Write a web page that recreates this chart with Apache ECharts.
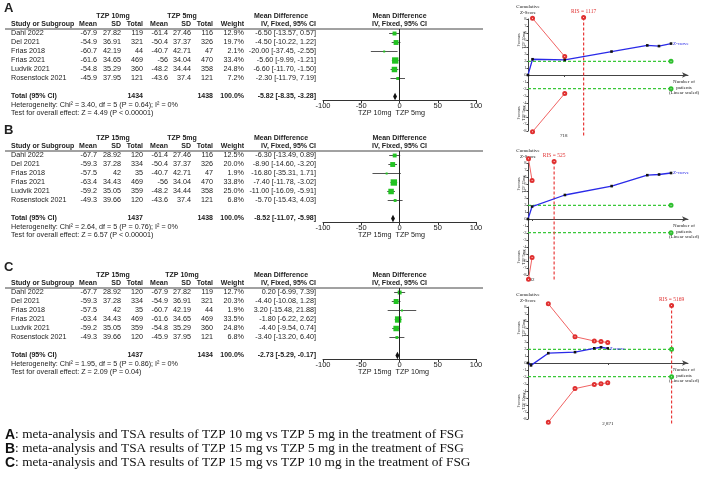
<!DOCTYPE html>
<html><head><meta charset="utf-8">
<script src="https://cdn.jsdelivr.net/npm/echarts@6/dist/echarts.min.js"></script>
<style>html,body{margin:0;padding:0;background:#fff}#c{width:708px;height:484px}</style>
</head><body><div id="c"></div>
<script>
// ---------------- DATA ----------------
const studies = ['Dahl 2022','Del 2021','Frias 2018','Frias 2021','Ludvik 2021','Rosenstock 2021'];
const forestTicks = [-100, -50, 0, 50, 100];

// Panel A: TZP 10mg vs TZP 5mg
const aGroups = ['TZP 10mg', 'TZP 5mg'];
const aExpMean = [-67.9, -54.9, -60.7, -61.6, -54.8, -45.9];
const aExpSD = [27.82, 36.91, 42.19, 34.65, 35.29, 37.95];
const aExpN = [119, 321, 44, 469, 360, 121];
const aCtrlMean = [-61.4, -50.4, -40.7, -56, -48.2, -43.6];
const aCtrlSD = [27.46, 37.37, 42.71, 34.04, 34.44, 37.4];
const aCtrlN = [116, 326, 47, 470, 358, 121];
const aWeight = [12.9, 19.7, 2.1, 33.4, 24.8, 7.2];
const aMD = [-6.50, -4.50, -20.00, -5.60, -6.60, -2.30];
const aLo = [-13.57, -10.22, -37.45, -9.99, -11.70, -11.79];
const aHi = [0.57, 1.22, -2.55, -1.21, -1.50, 7.19];
const aTotal = [1434, 1438, -5.82, -8.35, -3.28];
const aHet = 'Heterogeneity: Chi² = 3.40, df = 5 (P = 0.64); I² = 0%';
const aTest = 'Test for overall effect: Z = 4.49 (P < 0.00001)';
// TSA A
const aZx = [0, 91, 738, 1677, 2395, 2630, 2872];
const aZ = [0, 2.25, 2.15, 3.35, 4.23, 4.13, 4.49];
const aBoundX = [91, 738];
const aUpper = [8.1, 2.63];
const aLower = [-8.1, -2.63];
const aRIS = 1117;
const aXLabel = 718;
const aFav = ['Favours\nTZP 10mg', 'Favours\nTZP 5mg'];

// Panel B: TZP 15mg vs TZP 5mg
const bGroups = ['TZP 15mg', 'TZP 5mg'];
const bExpMean = [-67.7, -59.3, -57.5, -63.4, -59.2, -49.3];
const bExpSD = [28.92, 37.28, 42, 34.43, 35.05, 39.66];
const bExpN = [120, 334, 35, 469, 359, 120];
const bCtrlMean = [-61.4, -50.4, -40.7, -56, -48.2, -43.6];
const bCtrlSD = [27.46, 37.37, 42.71, 34.04, 34.44, 37.4];
const bCtrlN = [116, 326, 47, 470, 358, 121];
const bWeight = [12.5, 20.0, 1.9, 33.8, 25.0, 6.8];
const bMD = [-6.30, -8.90, -16.80, -7.40, -11.00, -5.70];
const bLo = [-13.49, -14.60, -35.31, -11.78, -16.09, -15.43];
const bHi = [0.89, -3.20, 1.71, -3.02, -5.91, 4.03];
const bTotal = [1437, 1438, -8.52, -11.07, -5.98];
const bHet = 'Heterogeneity: Chi² = 2.64, df = 5 (P = 0.76); I² = 0%';
const bTest = 'Test for overall effect: Z = 6.57 (P < 0.00001)';
// TSA B
const bZx = [0, 82, 742, 1681, 2398, 2634, 2875];
const bZ = [0, 1.78, 3.43, 4.70, 6.26, 6.36, 6.57];
const bBoundX = [10, 82];
const bUpper = [8.6, 5.5];
const bLower = [-8.6, -5.5];
const bRIS = 525;
const bXLabel = 82;
const bFav = ['Favours\nTZP 15mg', 'Favours\nTZP 5mg'];

// Panel C: TZP 15mg vs TZP 10mg
const cGroups = ['TZP 15mg', 'TZP 10mg'];
const cExpMean = [-67.7, -59.3, -57.5, -63.4, -59.2, -49.3];
const cExpSD = [28.92, 37.28, 42, 34.43, 35.05, 39.66];
const cExpN = [120, 334, 35, 469, 359, 120];
const cCtrlMean = [-67.9, -54.9, -60.7, -61.6, -54.8, -45.9];
const cCtrlSD = [27.82, 36.91, 42.19, 34.65, 35.29, 37.95];
const cCtrlN = [119, 321, 44, 469, 360, 121];
const cWeight = [12.7, 20.3, 1.9, 33.5, 24.8, 6.8];
const cMD = [0.20, -4.40, 3.20, -1.80, -4.40, -3.40];
const cLo = [-6.99, -10.08, -15.48, -6.22, -9.54, -13.20];
const cHi = [7.39, 1.28, 21.88, 2.62, 0.74, 6.40];
const cTotal = [1437, 1434, -2.73, -5.29, -0.17];
const cHet = 'Heterogeneity: Chi² = 1.95, df = 5 (P = 0.86); I² = 0%';
const cTest = 'Test for overall effect: Z = 2.09 (P = 0.04)';
// TSA C
const cZx = [0, 108, 731, 1692, 2387, 2628, 2871];
const cZ = [0, -0.34, 1.40, 1.55, 2.10, 2.25, 2.09];
const cBoundX = [731, 1692, 2387, 2628, 2871];
const cUpper = [8.45, 3.76, 3.14, 3.06, 2.92];
const cLower = [-8.45, -3.66, -3.06, -2.96, -2.82];
const cRIS = 5169;
const cXLabel = 2871;
const cFav = ['Favours\nTZP 15mg', 'Favours\nTZP 10mg'];

const captions = [
  ['A', ': meta-analysis and TSA results of TZP 10 mg vs TZP 5 mg in the treatment of FSG'],
  ['B', ': meta-analysis and TSA results of TZP 15 mg vs TZP 5 mg in the treatment of FSG'],
  ['C', ': meta-analysis and TSA results of TZP 15 mg vs TZP 10 mg in the treatment of FSG']
];

// ---------------- LAYOUT ----------------
const SANS = '"Liberation Sans", Arial, sans-serif';
const SERIF = '"Liberation Serif", "Times New Roman", serif';
const panels = [
  {label:'A', dy:0,   zero:75,  xMax:3213, g:aGroups, em:aExpMean, es:aExpSD, en:aExpN, cm:aCtrlMean, cs:aCtrlSD, cn:aCtrlN, w:aWeight, md:aMD, lo:aLo, hi:aHi, tot:aTotal, het:aHet, test:aTest,
   zx:aZx, z:aZ, bx:aBoundX, up:aUpper, lw:aLower, ris:aRIS, xl:aXLabel, fav:aFav},
  {label:'B', dy:122, zero:219, xMax:3216, g:bGroups, em:bExpMean, es:bExpSD, en:bExpN, cm:bCtrlMean, cs:bCtrlSD, cn:bCtrlN, w:bWeight, md:bMD, lo:bLo, hi:bHi, tot:bTotal, het:bHet, test:bTest,
   zx:bZx, z:bZ, bx:bBoundX, up:bUpper, lw:bLower, ris:bRIS, xl:bXLabel, fav:bFav},
  {label:'C', dy:259, zero:363, xMax:5760, g:cGroups, em:cExpMean, es:cExpSD, en:cExpN, cm:cCtrlMean, cs:cCtrlSD, cn:cCtrlN, w:cWeight, md:cMD, lo:cLo, hi:cHi, tot:cTotal, het:cHet, test:cTest,
   zx:cZx, z:cZ, bx:cBoundX, up:cUpper, lw:cLower, ris:cRIS, xl:cXLabel, fav:cFav}
];
const COL = {mean1:97, sd1:121, n1:143, mean2:168, sd2:191, n2:213, w:244, ci:316, g1:113, g2:182, md:281, study:11};
const ROW0 = 33.5, ROWH = 9;
const FL = 323, FW = 153;
const FS = 7.2, FB = 7;

function txt(x, y, text, o) {
  o = o || {};
  return {type:'text', x:x, y:y, silent:true, rotation:o.rot||0,
    style:{text:text, fill:o.fill||'#222', font:(o.bold?'bold ':'')+(o.size||(o.bold?FB:FS))+'px '+(o.family||SANS),
      align:o.align||'left', verticalAlign:'middle', lineHeight:o.lh}};
}
const fmt2 = v => v.toFixed(2);
const ciStr = (m,l,h) => fmt2(m)+' ['+fmt2(l)+', '+fmt2(h)+']';

const graphics = [];
const grids = [], xAxes = [], yAxes = [], series = [];

panels.forEach((p, k) => {
  const dy = p.dy;
  graphics.push(txt(4, 8+dy, p.label, {bold:true, size:13}));
  const h1 = 16+dy, h2 = 24.5+dy;
  graphics.push(txt(COL.g1, h1, p.g[0], {bold:true, align:'center'}));
  graphics.push(txt(COL.g2, h1, p.g[1], {bold:true, align:'center'}));
  graphics.push(txt(COL.md, h1, 'Mean Difference', {bold:true, align:'center'}));
  graphics.push(txt(FL+FW/2, h1, 'Mean Difference', {bold:true, align:'center'}));
  graphics.push(txt(COL.study, h2, 'Study or Subgroup', {bold:true}));
  [['Mean',COL.mean1],['SD',COL.sd1],['Total',COL.n1],['Mean',COL.mean2],['SD',COL.sd2],['Total',COL.n2],['Weight',COL.w],['IV, Fixed, 95% CI',COL.ci]]
    .forEach(([t,x]) => graphics.push(txt(x, h2, t, {bold:true, align:'right'})));
  graphics.push(txt(FL+FW/2, h2, 'IV, Fixed, 95% CI', {bold:true, align:'center'}));
  graphics.push({type:'line', silent:true, shape:{x1:5, y1:29+dy, x2:483, y2:29+dy}, style:{stroke:'#444', lineWidth:1}});
  studies.forEach((s, i) => {
    const y = ROW0 + i*ROWH + dy;
    graphics.push(txt(COL.study, y, s));
    graphics.push(txt(COL.mean1, y, String(p.em[i]), {align:'right'}));
    graphics.push(txt(COL.sd1, y, String(p.es[i]), {align:'right'}));
    graphics.push(txt(COL.n1, y, String(p.en[i]), {align:'right'}));
    graphics.push(txt(COL.mean2, y, String(p.cm[i]), {align:'right'}));
    graphics.push(txt(COL.sd2, y, String(p.cs[i]), {align:'right'}));
    graphics.push(txt(COL.n2, y, String(p.cn[i]), {align:'right'}));
    graphics.push(txt(COL.w, y, p.w[i].toFixed(1)+'%', {align:'right'}));
    graphics.push(txt(COL.ci, y, ciStr(p.md[i], p.lo[i], p.hi[i]), {align:'right'}));
  });
  const ty = ROW0 + 7*ROWH + dy;
  graphics.push(txt(COL.study, ty, 'Total (95% CI)', {bold:true}));
  graphics.push(txt(COL.n1, ty, String(p.tot[0]), {bold:true, align:'right'}));
  graphics.push(txt(COL.n2, ty, String(p.tot[1]), {bold:true, align:'right'}));
  graphics.push(txt(COL.w, ty, '100.0%', {bold:true, align:'right'}));
  graphics.push(txt(COL.ci, ty, ciStr(p.tot[2], p.tot[3], p.tot[4]), {bold:true, align:'right'}));
  graphics.push(txt(COL.study, ty+8.5, p.het));
  graphics.push(txt(COL.study, ty+17, p.test));
  graphics.push(txt(FL+FW/2-8, ty+17, p.g[0], {align:'right'}));
  graphics.push(txt(FL+FW/2-4, ty+17, p.g[1], {align:'left'}));

  // forest grid
  const gi = grids.length;
  grids.push({left:FL, top:29+dy, width:FW, height:71});
  xAxes.push({gridIndex:gi, type:'value', min:-100, max:100, interval:50,
    axisLine:{show:true, onZero:false, lineStyle:{color:'#333', width:1}},
    axisTick:{show:true, length:3, lineStyle:{color:'#333'}},
    axisLabel:{fontSize:7.5, fontFamily:SANS, color:'#222', margin:2},
    splitLine:{show:false}});
  yAxes.push({gridIndex:gi, type:'value', inverse:true, min:-0.5, max:-0.5+71/ROWH, show:false});
  const fdata = p.md.map((m, i) => [m, p.lo[i], p.hi[i], i, p.w[i]]);
  series.push({type:'custom', xAxisIndex:gi, yAxisIndex:gi, data:fdata, silent:true,
    renderItem:(params, api) => {
      const y = api.coord([0, api.value(3)])[1];
      const xl = api.coord([api.value(1), 0])[0], xh = api.coord([api.value(2), 0])[0], xm = api.coord([api.value(0), 0])[0];
      const s = Math.max(2, 1.1*Math.sqrt(api.value(4)));
      return {type:'group', children:[
        {type:'line', shape:{x1:xl, y1:y, x2:xh, y2:y}, style:{stroke:'#555', lineWidth:1}},
        {type:'rect', shape:{x:xm-s/2, y:y-s/2, width:s, height:s}, style:{fill:'#22c322'}}
      ]};
    },
    markLine:{silent:true, symbol:'none', label:{show:false}, lineStyle:{color:'#222', width:1, type:'solid'}, data:[{xAxis:0}]}
  });
  series.push({type:'custom', xAxisIndex:gi, yAxisIndex:gi, silent:true, data:[[p.tot[2], p.tot[3], p.tot[4], 7]],
    renderItem:(params, api) => {
      const y = api.coord([0, api.value(3)])[1];
      const xl = api.coord([api.value(1), 0])[0], xh = api.coord([api.value(2), 0])[0], xm = api.coord([api.value(0), 0])[0];
      return {type:'polygon', shape:{points:[[xl,y],[xm,y-3.8],[xh,y],[xm,y+3.8]]}, style:{fill:'#111'}};
    }});

  // TSA grid
  const ti = grids.length;
  grids.push({left:528, top:p.zero-56, width:160, height:112});
  xAxes.push({gridIndex:ti, type:'value', min:0, max:p.xMax,
    axisLine:{show:true, onZero:true, symbol:['none','arrow'], symbolSize:[4,6], lineStyle:{color:'#444', width:1}},
    axisTick:{show:true, customValues:[p.xl], length:2, lineStyle:{color:'#444'}},
    axisLabel:{show:true, customValues:[p.xl], fontSize:5, fontFamily:SERIF, color:'#222', margin:2},
    splitLine:{show:false},
    name:'Number of\npatients\n(Linear scaled)', nameLocation:'end', nameGap:-4,
    nameTextStyle:{fontSize:5, fontFamily:SERIF, color:'#222', align:'center', verticalAlign:'top', lineHeight:5.5, padding:[4,0,0,0]}});
  yAxes.push({gridIndex:ti, type:'value', min:-8, max:8, interval:1,
    axisLine:{show:true, onZero:false, lineStyle:{color:'#444', width:1}},
    axisTick:{show:true, length:1.5, lineStyle:{color:'#444'}},
    axisLabel:{fontSize:4.5, fontFamily:SERIF, color:'#333', margin:1.5},
    splitLine:{show:false},
    name:'Cumulative\nZ-Score', nameLocation:'end', nameGap:4,
    nameTextStyle:{fontSize:5, fontFamily:SERIF, color:'#222', align:'center', lineHeight:5.5}});
  graphics.push(txt(521, p.zero-35, p.fav[0], {size:4, family:SERIF, align:'center', rot:Math.PI/2, lh:5}));
  graphics.push(txt(521, p.zero+38, p.fav[1], {size:4, family:SERIF, align:'center', rot:Math.PI/2, lh:5}));

  const lastX = Math.max(p.ris, p.zx[p.zx.length-1]);
  const base = {type:'line', xAxisIndex:ti, yAxisIndex:ti, clip:false, silent:true, animation:false};
  [1.96, -1.96].forEach(v => series.push(Object.assign({}, base, {
    data:[{value:[0, v], symbol:'none'}, {value:[lastX, v], symbol:'emptyCircle'}],
    symbolSize:3, showSymbol:true, itemStyle:{color:'#2fbf2f'}, lineStyle:{color:'#39c839', width:1.2, type:[3,2]}})));
  series.push(Object.assign({}, base, {
    data:[{value:[p.ris, 8.2], symbol:'emptyCircle', label:{show:true, position:'top', distance:1, formatter:'RIS = '+p.ris, fontSize:5.5, fontFamily:SERIF, color:'#e03030'}},
          {value:[p.ris, -8.9], symbol:'none'}],
    symbolSize:3, showSymbol:true, itemStyle:{color:'#e03030'}, lineStyle:{color:'#e83a3a', width:1.2, type:[3,2]}}));
  [p.up, p.lw].forEach(arr => series.push(Object.assign({}, base, {
    data:p.bx.map((x, i) => [x, arr[i]]), symbol:'emptyCircle', symbolSize:3, showSymbol:true,
    itemStyle:{color:'#e03030'}, lineStyle:{color:'#ee5050', width:0.9}})));
  series.push(Object.assign({}, base, {
    data:p.zx.map((x, i) => [x, p.z[i]]), symbol:'rect', symbolSize:2.6, showSymbol:true, showAllSymbol:true,
    itemStyle:{color:'#111'}, lineStyle:{color:'#2a2ae8', width:1.3},
    endLabel:{show:true, formatter:'Z-curve', fontSize:5, fontFamily:SERIF, color:'#2a2ae8', distance:2}}));
});

captions.forEach((c, i) => {
  graphics.push({type:'text', x:5, y:435+i*14, silent:true,
    style:{text:'{b|'+c[0]+'}{t|'+c[1]+'}', verticalAlign:'middle',
      rich:{b:{font:'bold 14px '+SANS, fill:'#111'}, t:{font:'13.3px '+SERIF, fill:'#111'}}}});
});

const chart = echarts.init(document.getElementById('c'), null, {renderer:'canvas', width:708, height:484});
chart.setOption({
  animation:false,
  backgroundColor:'#fff',
  grid:grids, xAxis:xAxes, yAxis:yAxes, series:series, graphic:graphics
});
</script></body></html>
